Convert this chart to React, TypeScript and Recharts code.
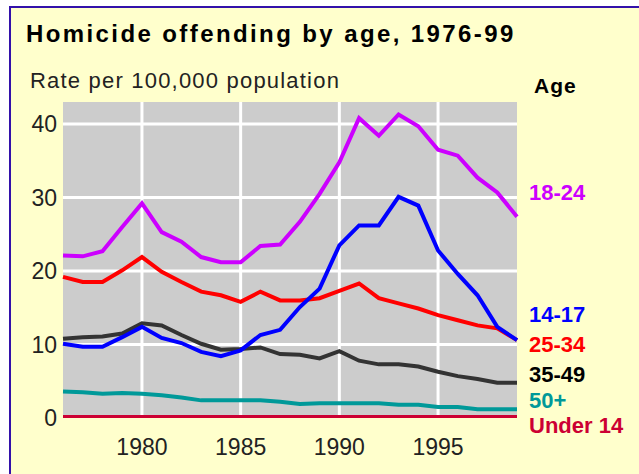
import React from 'react';
import { LineChart, Line, XAxis, YAxis, CartesianGrid } from 'recharts';

const years = [1976, 1977, 1978, 1979, 1980, 1981, 1982, 1983, 1984, 1985, 1986, 1987, 1988, 1989, 1990, 1991, 1992, 1993, 1994, 1995, 1996, 1997, 1998, 1999];

const age18to24 = [22.1, 22.0, 22.7, 26.0, 29.2, 25.3, 24.0, 21.9, 21.2, 21.2, 23.4, 23.6, 26.7, 30.5, 34.8, 40.8, 38.4, 41.3, 39.7, 36.5, 35.7, 32.7, 30.7, 27.4];
const age14to17 = [10.1, 9.7, 9.7, 11.0, 12.4, 10.9, 10.2, 9.0, 8.4, 9.2, 11.3, 12.0, 15.1, 17.6, 23.5, 26.2, 26.2, 30.1, 28.9, 22.8, 19.6, 16.7, 12.4, 10.6];
const age25to34 = [19.2, 18.5, 18.5, 20.1, 21.9, 19.9, 18.5, 17.2, 16.7, 15.8, 17.2, 16.0, 16.0, 16.3, 17.3, 18.3, 16.3, 15.6, 14.9, 14.0, 13.3, 12.6, 12.2, 10.6];
const age35to49 = [10.8, 11.0, 11.1, 11.5, 12.9, 12.6, 11.3, 10.1, 9.3, 9.4, 9.6, 8.7, 8.6, 8.1, 9.1, 7.8, 7.3, 7.3, 7.0, 6.3, 5.7, 5.3, 4.8, 4.8];
const age50plus = [3.6, 3.5, 3.3, 3.4, 3.3, 3.1, 2.8, 2.4, 2.4, 2.4, 2.4, 2.2, 1.9, 2.0, 2.0, 2.0, 2.0, 1.8, 1.8, 1.5, 1.5, 1.2, 1.2, 1.2];
const under14 = [0.2, 0.2, 0.2, 0.2, 0.2, 0.2, 0.2, 0.2, 0.2, 0.2, 0.2, 0.2, 0.2, 0.2, 0.2, 0.2, 0.2, 0.2, 0.2, 0.2, 0.2, 0.2, 0.2, 0.2];

const yTicks = [0, 10, 20, 30, 40];
const xTicks = [1980, 1985, 1990, 1995];

const data = years.map((year, i) => ({
  year,
  a18: age18to24[i],
  a14: age14to17[i],
  a25: age25to34[i],
  a35: age35to49[i],
  a50: age50plus[i],
  u14: under14[i],
}));

const labelFont = 'Arial, "Liberation Sans", sans-serif';

export default function App() {
  return (
    <div style={{ position: 'fixed', left: 0, top: 0, width: 639, height: 474, background: '#ffffff' }}>
      <div
        style={{
          position: 'absolute',
          left: 9,
          top: 6,
          right: 0,
          bottom: 0,
          borderTop: '2px solid #3311aa',
          borderLeft: '2px solid #3311aa',
          background: '#ffffcc',
        }}
      />
      <div style={{ position: 'absolute', left: 0, top: 0 }}>
        <LineChart width={639} height={474} data={data} margin={{ top: 102, right: 122, bottom: 16, left: 0 }}>
          <CartesianGrid
            fill="#cccccc"
            fillOpacity={1}
            stroke="#ffffff"
            strokeWidth={3}
            horizontalValues={[10, 20, 30, 40]}
            verticalValues={xTicks}
          />
          <XAxis
            dataKey="year"
            type="number"
            domain={[1976, 1999]}
            ticks={xTicks}
            height={40}
            tickLine={false}
            axisLine={false}
            tickSize={0}
            tickMargin={21}
            tick={{ fill: '#222222', fontSize: 23, fontFamily: labelFont }}
          />
          <YAxis
            type="number"
            domain={[0, 43]}
            ticks={yTicks}
            width={63}
            tickLine={false}
            axisLine={false}
            tickSize={0}
            tickMargin={6}
            tick={{ fill: '#222222', fontSize: 23, fontFamily: labelFont }}
          />
          <Line dataKey="u14" stroke="#cc0033" strokeWidth={3} dot={false} isAnimationActive={false} />
          <Line dataKey="a50" stroke="#009999" strokeWidth={4} dot={false} isAnimationActive={false} />
          <Line dataKey="a35" stroke="#333333" strokeWidth={4} dot={false} isAnimationActive={false} />
          <Line dataKey="a25" stroke="#ff0000" strokeWidth={4} dot={false} isAnimationActive={false} />
          <Line dataKey="a14" stroke="#0000ff" strokeWidth={4} dot={false} isAnimationActive={false} />
          <Line dataKey="a18" stroke="#cc00ff" strokeWidth={4} dot={false} isAnimationActive={false} />
        </LineChart>
      </div>
      <svg width={639} height={474} style={{ position: 'absolute', left: 0, top: 0, pointerEvents: 'none' }}>
        <g fontFamily={labelFont}>
          <text x={26} y={42} fontSize={24} fontWeight="bold" letterSpacing={2.4} fill="#000000">
            Homicide offending by age, 1976-99
          </text>
          <text x={30} y={88} fontSize={22} letterSpacing={1.2} fill="#222222">
            Rate per 100,000 population
          </text>
          <text x={534} y={93} fontSize={21} fontWeight="bold" letterSpacing={1} fill="#000000">
            Age
          </text>
          <text x={529} y={200} fontSize={22} fontWeight="bold" fill="#cc00ff">18-24</text>
          <text x={529} y={322} fontSize={22} fontWeight="bold" fill="#0000ff">14-17</text>
          <text x={529} y={352} fontSize={22} fontWeight="bold" fill="#ff0000">25-34</text>
          <text x={529} y={382} fontSize={22} fontWeight="bold" fill="#000000">35-49</text>
          <text x={529} y={408} fontSize={22} fontWeight="bold" fill="#009999">50+</text>
          <text x={529} y={433} fontSize={22} fontWeight="bold" fill="#cc0033">Under 14</text>
        </g>
      </svg>
    </div>
  );
}
